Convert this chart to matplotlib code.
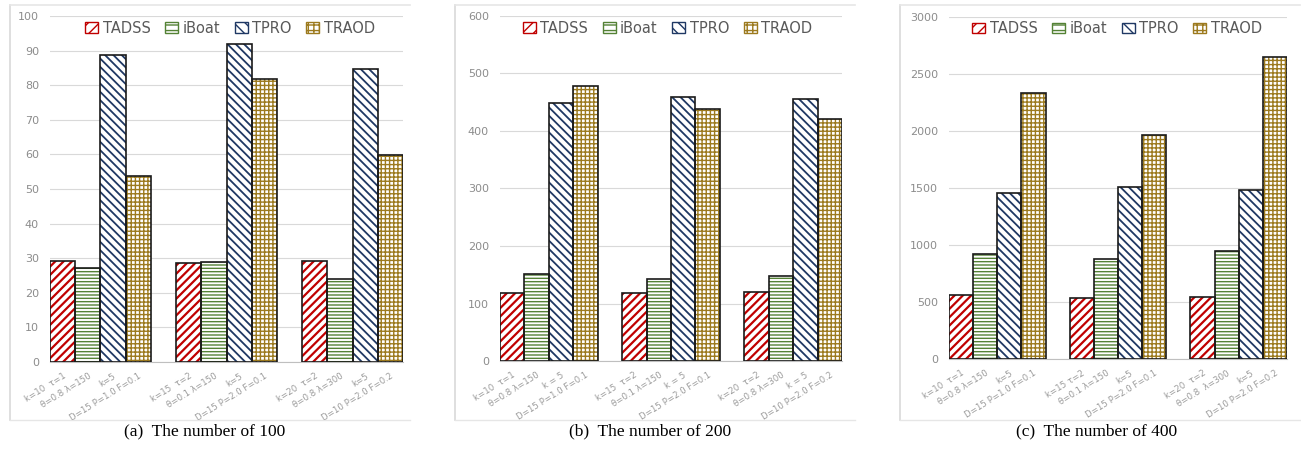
import numpy as np
import matplotlib.pyplot as plt
from matplotlib.patches import Patch
from matplotlib.lines import Line2D

# methods and their bar styles
methods = ['TADSS', 'iBoat', 'TPRO', 'TRAOD']
hatch_colors = ['#c00000', '#548235', '#1f3864', '#9c7a1e']
hatches = ['////', '-----', '\\\\\\\\', '++++']
hatch_widths = [1.6, 1.0, 1.3, 1.0]

# running times for three parameter settings, per data size
values_100 = {
    'TADSS': [29.2, 28.5, 29.2],
    'iBoat': [27.3, 28.9, 23.9],
    'TPRO': [88.8, 91.8, 84.8],
    'TRAOD': [53.8, 81.8, 59.9],
}
values_200 = {
    'TADSS': [119, 119, 120],
    'iBoat': [152, 142, 147],
    'TPRO': [449, 459, 455],
    'TRAOD': [479, 439, 420],
}
values_400 = {
    'TADSS': [561, 538, 547],
    'iBoat': [918, 874, 950],
    'TPRO': [1453, 1506, 1482],
    'TRAOD': [2331, 1968, 2652],
}

labels_100 = [
    ['k=10  τ=1', 'θ=0.8 λ=150', 'k=5', 'D=15 P=1.0 F=0.1'],
    ['k=15  τ=2', 'θ=0.1 λ=150', 'k=5', 'D=15 P=2.0 F=0.1'],
    ['k=20  τ=2', 'θ=0.8 λ=300', 'k=5', 'D=10 P=2.0 F=0.2'],
]
labels_200 = [
    ['k=10  τ=1', 'θ=0.8 λ=150', 'k = 5', 'D=15 P=1.0 F=0.1'],
    ['k=15  τ=2', 'θ=0.1 λ=150', 'k = 5', 'D=15 P=2.0 F=0.1'],
    ['k=20  τ=2', 'θ=0.8 λ=300', 'k = 5', 'D=10 P=2.0 F=0.2'],
]
labels_400 = [
    ['k=10  τ=1', 'θ=0.8 λ=150', 'k=5', 'D=15 P=1.0 F=0.1'],
    ['k=15 τ=2', 'θ=0.1 λ=150', 'k=5', 'D=15 P=2.0 F=0.1'],
    ['k=20  τ=2', 'θ=0.8  λ=300', 'k=5', 'D=10 P=2.0 F=0.2'],
]

yticks_100 = np.arange(0, 101, 10)
yticks_200 = np.arange(0, 601, 100)
yticks_400 = np.arange(0, 3001, 500)

captions = ['(a)  The number of 100', '(b)  The number of 200',
            '(c)  The number of 400']

plt.rcParams['font.family'] = ['DejaVu Sans']

fig = plt.figure(figsize=(13.01, 4.51), dpi=100)
W, H = 1301, 451

# axes boxes in pixels: left, right, top (max tick), bottom (zero)
boxes = [(50, 403, 16, 362), (500, 842, 16, 361), (949, 1287, 17, 359)]
frames = [(10, 410), (455, 855), (900, 1300)]
cap_x = [205, 650, 1097]
legend_x = [0.51, 0.49, 0.497]

panels = [(values_100, labels_100, yticks_100),
          (values_200, labels_200, yticks_200),
          (values_400, labels_400, yticks_400)]

grey = '#8c8c8c'
w = 0.2
x = np.arange(3)


def hatched_bars(ax, pos, heights, j):
    # hatch layer in the series colour, then a dark outline on top
    with plt.rc_context({'hatch.linewidth': hatch_widths[j]}):
        bars = ax.bar(pos, heights, width=w, color='white',
                      edgecolor=hatch_colors[j], hatch=hatches[j],
                      linewidth=0, zorder=2)
        for p in bars:
            if hasattr(p, 'set_hatch_linewidth'):
                p.set_hatch_linewidth(hatch_widths[j])
    ax.bar(pos, heights, width=w, fill=False, edgecolor='#1a1a1a',
           linewidth=1.2, zorder=3)


for i, (vals, labs, yt) in enumerate(panels):
    l, r, t, b = boxes[i]
    ax = fig.add_axes([l / W, 1 - b / H, (r - l) / W, (b - t) / H])
    for j, m in enumerate(methods):
        hatched_bars(ax, x - 0.3 + j * w, vals[m], j)

    ax.set_xlim(-0.4, 2.4)
    ax.set_ylim(0, yt[-1])
    ax.set_yticks(yt)
    ax.set_yticklabels([str(v) for v in yt], fontsize=8, color=grey)
    ax.tick_params(axis='y', length=0, pad=8)
    ax.grid(axis='y', color='#d9d9d9', linewidth=0.8, zorder=0)
    ax.set_axisbelow(True)
    for s in ['top', 'right', 'left']:
        ax.spines[s].set_visible(False)
    ax.spines['bottom'].set_color('#bfbfbf')

    # one rotated label under each bar
    ticks = np.sort(np.concatenate([x + (-0.3 + j * w) for j in range(4)]))
    flat = [s for grp in labs for s in grp]
    ax.set_xticks(ticks)
    ax.set_xticklabels(flat, rotation=32, ha='right', va='top',
                       rotation_mode='anchor', fontsize=6.2, color='#9a9a9a')
    ax.tick_params(axis='x', length=0, pad=7)

    handles = [Patch(facecolor='white', edgecolor=hatch_colors[j],
                     hatch=hatches[j][:3], label=m)
               for j, m in enumerate(methods)]
    ax.legend(handles=handles, loc='center', ncol=4,
              bbox_to_anchor=(legend_x[i], 0.965), frameon=False,
              fontsize=10.5, labelcolor='#595959', handlelength=0.9,
              handleheight=0.7, handletextpad=0.3, columnspacing=1.0)

    # light chart-area frame
    fl, fr = frames[i]
    fig.add_artist(Line2D([fl / W, fl / W], [1 - 5 / H, 1 - 420 / H],
                          color='#d9d9d9', linewidth=1.2))
    fig.add_artist(Line2D([fl / W, fr / W], [1 - 5 / H, 1 - 5 / H],
                          color='#e6e6e6', linewidth=1.2))
    fig.add_artist(Line2D([fl / W, fr / W], [1 - 420 / H, 1 - 420 / H],
                          color='#e6e6e6', linewidth=1.0))

    fig.text(cap_x[i] / W, 1 - 431 / H, captions[i], ha='center', va='center',
             fontsize=12.5, family='Liberation Serif')

fig.savefig('out.png', dpi=100)
